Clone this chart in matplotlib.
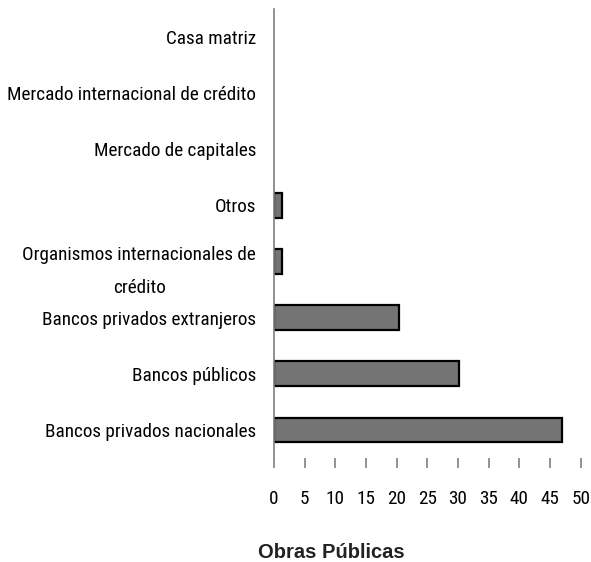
import matplotlib
matplotlib.use("Agg")
import matplotlib.pyplot as plt
from matplotlib import font_manager

categories = [
    "Bancos privados nacionales",
    "Bancos públicos",
    "Bancos privados extranjeros",
    "Organismos internacionales de\ncrédito",
    "Otros",
    "Mercado de capitales",
    "Mercado internacional de crédito",
    "Casa matriz",
]
values = [47, 30.2, 20.3, 1.3, 1.3, 0, 0, 0]
xticks = list(range(0, 51, 5))
title = "Obras Públicas"

# look for a narrow sans regular face, like Arial Narrow in the original
narrow_file = None
for f in font_manager.fontManager.ttflist:
    fn = f.fname.lower().replace("\\", "/").split("/")[-1]
    nm = f.name.lower()
    if "mono" in fn or "mono" in nm or "serif" in fn or "serif" in nm:
        continue
    if "bold" in fn or "oblique" in fn or "italic" in fn or "light" in fn:
        continue
    if "narrow" in fn or "condensed" in fn or "narrow" in nm or "condensed" in nm:
        narrow_file = f.fname
        if "liberation" in fn or "arial" in fn:
            break

if narrow_file:
    lab_font = font_manager.FontProperties(fname=narrow_file, size=13.8)
else:
    lab_font = font_manager.FontProperties(family="Liberation Sans", size=12.3)

fig = plt.figure(figsize=(5.91, 5.62), dpi=100)
ax = fig.add_axes([274 / 591, 1 - 458 / 562, (580.7 - 274) / 591, (458 - 9) / 562])

ypos = list(range(len(categories)))
# zero-valued categories get no visible bar (only their label)
edges = ["black" if v > 0 else "none" for v in values]
ax.barh(ypos, values, height=0.44, color="#747474", edgecolor=edges, linewidth=1.6)

ax.set_xlim(0, 50)
ax.set_ylim(-0.5, len(categories) - 0.5)
ax.set_xticks(xticks)
ax.set_xticklabels([str(t) for t in xticks], fontproperties=lab_font)
ax.set_yticks(ypos)
ax.set_yticklabels(categories, fontproperties=lab_font, linespacing=2.1)

for s in ["top", "right", "bottom"]:
    ax.spines[s].set_visible(False)
ax.spines["left"].set_color("#808080")
ax.spines["left"].set_linewidth(1.2)
ax.tick_params(axis="x", direction="out", length=7, width=1.2, color="#808080", pad=16)
ax.tick_params(axis="y", length=0, pad=13)
for lab in ax.get_yticklabels():
    lab.set_horizontalalignment("right")
    lab.set_multialignment("center")

fig.text(331 / 591, 1 - 553 / 562, title, ha="center", va="center",
         fontsize=14.5, fontweight="bold", family="Liberation Sans", color="#222222")

fig.savefig("out.png", dpi=100)
